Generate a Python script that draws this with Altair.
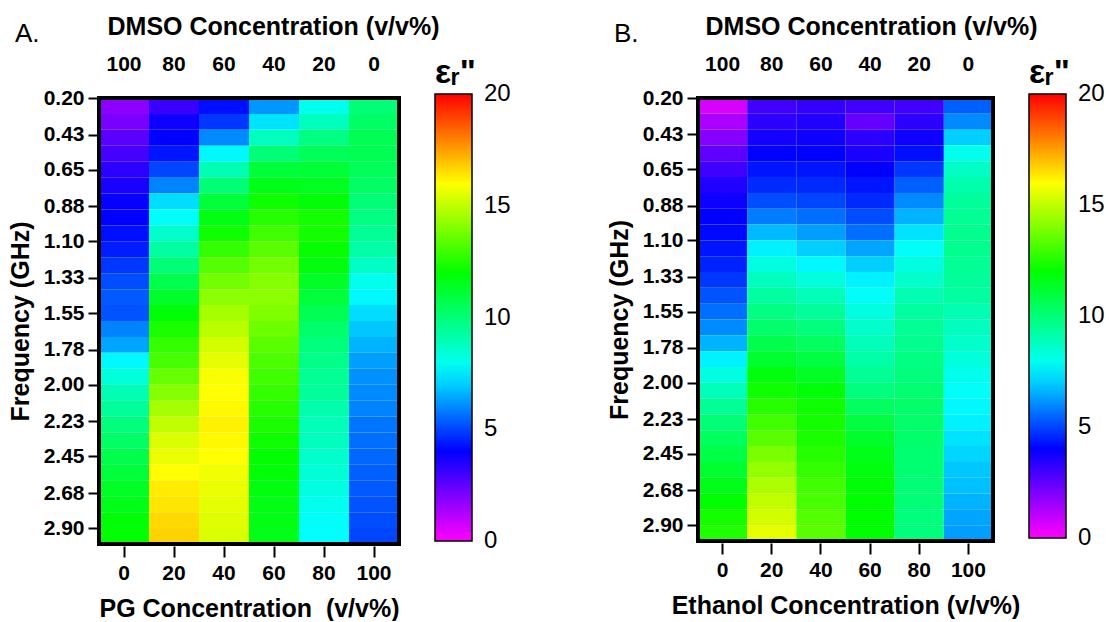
import altair as alt
import pandas as pd

# ---------------- data ----------------
FREQ_START = [0.2, 0.3, 0.4, 0.5, 0.6, 0.7, 0.8, 0.9, 1.0, 1.1, 1.2, 1.3, 1.4, 1.5,
              1.6, 1.7, 1.8, 1.9, 2.0, 2.1, 2.2, 2.3, 2.4, 2.5, 2.6, 2.7, 2.8, 2.9]
ROW_STEP = 0.1
FREQ_TICKS = [0.20, 0.43, 0.65, 0.88, 1.10, 1.33, 1.55, 1.78, 2.00, 2.23, 2.45, 2.68, 2.90]
CONC = [0, 20, 40, 60, 80, 100]
DMSO_TOP = [100, 80, 60, 40, 20, 0]
LEGEND_VALUES = [0, 5, 10, 15, 20]
COLOR_STOPS = [0, 4, 7.7, 12, 16, 20]
COLOR_RANGE = ["#ff00ff", "#0000ff", "#00ffff", "#00ff00", "#ffff00", "#ff0000"]

# Panel A: PG concentration columns (eps_r'' per frequency row)
PG_0 = [1.8, 2.1, 2.6, 2.9, 3.3, 3.6, 3.9, 4.0, 4.2, 4.4, 4.8, 5.1, 5.3, 5.2,
        5.9, 6.4, 7.6, 8.3, 9.0, 9.4, 9.9, 10.3, 10.7, 11.0, 11.4, 11.6, 11.9, 12.0]
PG_20 = [3.1, 3.8, 4.0, 4.3, 5.0, 5.9, 7.2, 7.8, 8.6, 9.3, 10.0, 10.7, 11.3, 11.9,
         12.4, 12.8, 13.1, 13.6, 14.1, 14.6, 15.0, 15.4, 15.7, 16.0, 16.3, 16.4, 16.6, 16.7]
PG_40 = [4.2, 4.8, 6.0, 7.6, 9.0, 10.0, 11.0, 11.7, 12.2, 12.8, 13.3, 13.8, 14.2, 14.6,
         14.9, 15.3, 15.6, 15.9, 16.0, 16.1, 16.2, 16.1, 16.0, 15.8, 15.7, 15.6, 15.5, 15.4]
PG_60 = [6.2, 7.3, 8.8, 10.0, 11.0, 11.6, 12.2, 12.6, 13.0, 13.4, 13.8, 14.1, 14.2, 14.0,
         13.7, 13.4, 13.2, 13.0, 12.8, 12.6, 12.4, 12.2, 12.0, 11.9, 11.8, 11.7, 11.7, 11.6]
PG_80 = [8.0, 8.8, 9.8, 10.5, 11.1, 11.5, 11.9, 12.3, 12.3, 12.1, 11.8, 11.4, 11.0, 10.6,
         10.2, 9.9, 9.7, 9.5, 9.4, 9.1, 8.9, 8.8, 8.6, 8.4, 8.2, 8.0, 7.8, 7.7]
PG_100 = [10.0, 10.3, 10.6, 10.6, 10.5, 10.3, 10.0, 9.8, 9.5, 9.2, 8.7, 8.0, 7.6, 7.2,
          6.9, 6.6, 6.3, 6.1, 6.0, 5.9, 5.7, 5.6, 5.5, 5.4, 5.3, 5.2, 5.1, 5.0]

# Panel B: Ethanol concentration columns
ET_0 = [0.6, 1.3, 1.9, 2.5, 3.0, 3.5, 3.8, 4.0, 4.1, 4.3, 4.5, 4.8, 5.2, 5.6,
        6.0, 6.6, 7.5, 8.2, 8.9, 9.5, 10.0, 10.4, 10.8, 11.2, 11.6, 12.0, 12.3, 12.5]
ET_20 = [3.0, 3.3, 3.7, 4.0, 4.3, 4.6, 5.1, 5.8, 6.7, 7.5, 8.2, 8.8, 9.3, 9.8,
         10.2, 10.7, 11.2, 11.8, 12.2, 12.6, 13.0, 13.4, 13.9, 14.3, 14.7, 15.0, 15.3, 15.6]
ET_40 = [3.2, 3.5, 3.8, 4.0, 4.3, 4.6, 5.0, 5.6, 6.3, 7.0, 7.6, 8.3, 8.9, 9.4,
         9.9, 10.4, 10.9, 11.4, 11.9, 12.2, 12.3, 12.4, 12.6, 12.8, 13.0, 13.1, 13.3, 13.4]
ET_60 = [3.0, 2.4, 3.3, 3.6, 4.0, 4.3, 4.6, 5.1, 5.6, 6.4, 7.0, 7.5, 7.8, 8.2,
         8.6, 8.9, 9.2, 9.5, 9.9, 10.4, 10.9, 11.3, 11.6, 11.8, 11.9, 12.0, 12.0, 12.0]
ET_80 = [3.0, 3.3, 3.8, 4.2, 4.8, 5.4, 6.0, 6.6, 7.3, 7.8, 8.2, 8.6, 9.0, 9.3,
         9.5, 9.6, 9.8, 9.9, 10.1, 10.2, 10.2, 10.2, 10.1, 10.1, 10.0, 10.0, 9.9, 9.9]
ET_100 = [5.4, 6.0, 7.0, 8.0, 8.7, 9.1, 9.4, 9.5, 9.6, 9.6, 9.5, 9.4, 9.3, 9.0,
          8.8, 8.6, 8.3, 8.0, 7.8, 7.6, 7.5, 7.3, 7.1, 6.9, 6.8, 6.6, 6.4, 6.3]

FONT = "Liberation Sans"
# tiny widening so the end labels of the colour bar stay centred on their values
SCALE_DOMAIN = [COLOR_STOPS[0] - 0.02] + COLOR_STOPS[1:-1] + [COLOR_STOPS[-1] + 0.02]


def make_df(columns):
    rows = []
    for conc, dmso, col in zip(CONC, DMSO_TOP, columns):
        for f, v in zip(FREQ_START, col):
            rows.append({"conc": conc, "dmso": dmso, "f0": f,
                         "f1": round(f + ROW_STEP, 3), "value": v})
    return pd.DataFrame(rows)


def panel(df, x_title, letter, w, h, title_x):
    cscale = alt.Scale(domain=SCALE_DOMAIN, range=COLOR_RANGE, interpolate="rgb")
    heat = alt.Chart(df).mark_rect().encode(
        x=alt.X("conc:O",
                scale=alt.Scale(domain=CONC, paddingInner=0, paddingOuter=0),
                axis=alt.Axis(orient="bottom", title=x_title, labelAngle=0,
                              tickSize=11, tickWidth=2, tickColor="black",
                              domain=False, offset=2, labelPadding=5,
                              labelFontSize=21, labelFontWeight="bold",
                              labelFont=FONT, labelColor="black",
                              titleFont=FONT, titleFontSize=25,
                              titleFontWeight="bold", titleColor="black",
                              titlePadding=13)),
        y=alt.Y("f0:Q",
                scale=alt.Scale(domain=[0.2, 3.0], reverse=True, nice=False, zero=False),
                axis=alt.Axis(values=FREQ_TICKS, format=".2f", title="Frequency (GHz)",
                              tickSize=11, tickWidth=2, tickColor="black",
                              domain=False, grid=False, labelPadding=4,
                              labelFontSize=21, labelFontWeight="bold",
                              labelFont=FONT, labelColor="black",
                              titleFont=FONT, titleFontSize=25,
                              titleFontWeight="bold", titleColor="black",
                              titlePadding=10)),
        y2="f1:Q",
        color=alt.Color("value:Q", scale=cscale,
                        legend=alt.Legend(type="gradient", title='\u00a0ε\u1d63"',
                                          orient="none",
                                          legendX=w + 36, legendY=-42,
                                          direction="vertical", padding=0,
                                          gradientLength=h + 1, gradientThickness=37,
                                          gradientStrokeColor="black",
                                          gradientStrokeWidth=1.5,
                                          values=LEGEND_VALUES, labelOverlap=False,
                                          labelFontSize=24, labelFont=FONT,
                                          labelColor="black", labelOffset=12,
                                          titleFontSize=34, titleFont=FONT,
                                          titleFontWeight="bold", titleColor="black",
                                          titlePadding=4)),
    )
    top = alt.Chart(df).mark_rect(opacity=0).encode(
        x=alt.X("dmso:O",
                scale=alt.Scale(domain=DMSO_TOP, paddingInner=0, paddingOuter=0),
                axis=alt.Axis(orient="top", title="DMSO Concentration (v/v%)",
                              labelAngle=0, ticks=False, domain=False,
                              labelPadding=24, labelFontSize=21,
                              labelFontWeight="bold", labelFont=FONT,
                              labelColor="black", titleFont=FONT,
                              titleFontSize=25, titleFontWeight="bold",
                              titleColor="black", titlePadding=14,
                              titleAlign="left", titleX=title_x)),
    )
    # black frame round the plot area
    frame = alt.Chart(df).mark_rect(fill="transparent", stroke="black", strokeWidth=4).encode(
        x=alt.value(0), x2=alt.value(w), y=alt.value(0), y2=alt.value(h))
    tag = alt.Chart(pd.DataFrame({"t": [letter]})).mark_text(
        font=FONT, fontSize=26, align="left", baseline="middle", color="black"
    ).encode(text="t:N", x=alt.value(-84), y=alt.value(-64))
    return alt.layer(heat, top, frame, tag).resolve_scale(x="independent").resolve_axis(
        x="independent").properties(width=w, height=h)


dfA = make_df([PG_0, PG_20, PG_40, PG_60, PG_80, PG_100])
dfB = make_df([ET_0, ET_20, ET_40, ET_60, ET_80, ET_100])

panelA = panel(dfA, "PG Concentration \u00a0(v/v%)", "A.", 300, 446, 8)
panelB = panel(dfB, "Ethanol Concentration (v/v%)", "B.", 295, 443, 7)

chart = alt.hconcat(panelA, panelB, spacing=96).resolve_scale(
    color="independent"
).properties(
    padding={"left": 8, "top": 14, "right": 0, "bottom": 0},
    background="white",
).configure_view(strokeWidth=0)

chart.save("out.html", embed_options={"renderer": "svg", "actions": False})
